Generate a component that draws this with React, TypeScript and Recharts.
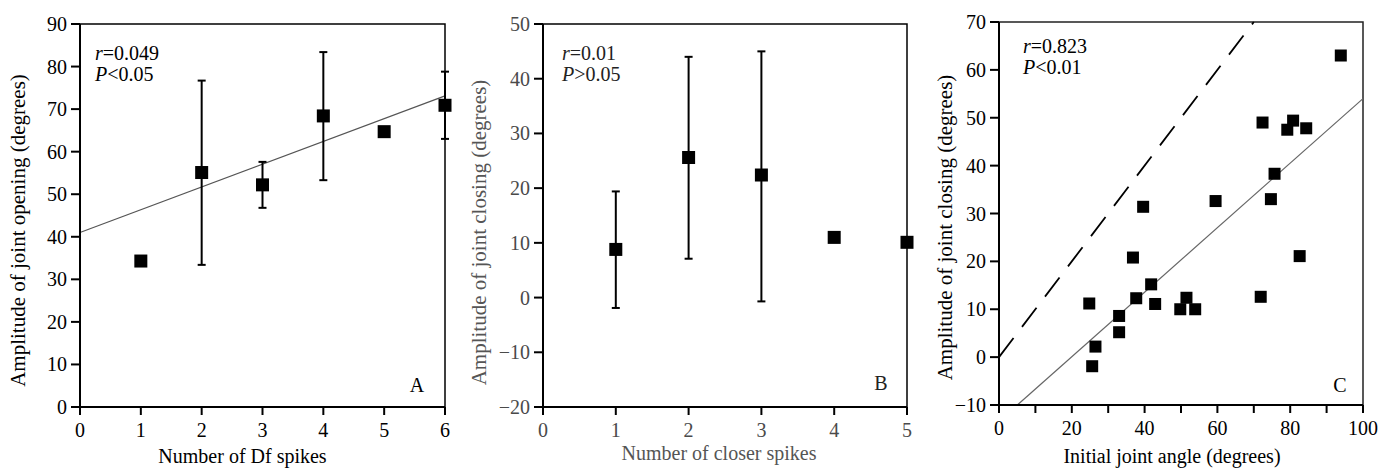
import React from 'react';
import {
  ScatterChart,
  Scatter,
  XAxis,
  YAxis,
  ErrorBar,
  ReferenceLine,
  ReferenceArea,
} from 'recharts';

const FONT = 'Liberation Serif, Times New Roman, serif';

// Panel A - joint opening vs Df spikes
const dfSpikes = [1, 2, 3, 4, 5, 6];
const openingMean = [34.3, 55.1, 52.2, 68.4, 64.7, 70.9];
const openingLow = [null, 33.4, 46.8, 53.3, null, 63.0];
const openingHigh = [null, 76.7, 57.6, 83.4, null, 78.8];
const openingFit = { intercept: 41.0, slope: 5.35 };
const ticksA_x = [0, 1, 2, 3, 4, 5, 6];
const ticksA_y = [0, 10, 20, 30, 40, 50, 60, 70, 80, 90];

// Panel B - joint closing vs closer spikes
const closerSpikes = [1, 2, 3, 4, 5];
const closingMean = [8.8, 25.6, 22.4, 11.0, 10.1];
const closingLow = [-1.9, 7.1, -0.7, null, null];
const closingHigh = [19.4, 44.0, 45.0, null, null];
const ticksB_x = [0, 1, 2, 3, 4, 5];
const ticksB_y = [-20, -10, 0, 10, 20, 30, 40, 50];

// Panel C - joint closing vs initial angle
const initialAngle = [
  93.9, 72.4, 80.8, 79.2, 84.4, 75.7, 74.7, 59.5, 39.6, 36.8, 82.6, 41.8,
  37.7, 42.9, 24.8, 51.5, 49.8, 53.9, 71.9, 33.0, 33.0, 26.5, 25.6,
];
const closingAmp = [
  63.0, 49.0, 49.4, 47.5, 47.8, 38.3, 33.0, 32.6, 31.4, 20.8, 21.1, 15.2,
  12.3, 11.1, 11.2, 12.4, 10.0, 10.0, 12.6, 8.6, 5.2, 2.2, -1.9,
];
const angleFit = { intercept: -13.4, slope: 0.674 };
const ticksC_x = [0, 10, 20, 30, 40, 50, 60, 70, 80, 90, 100];
const ticksC_y = [-10, 0, 10, 20, 30, 40, 50, 60, 70];

const withErrors = (xs: number[], ys: number[], lo: (number | null)[], hi: (number | null)[]) =>
  xs.map((x, i) => ({
    x,
    y: ys[i],
    err: lo[i] == null ? undefined : [ys[i] - (lo[i] as number), (hi[i] as number) - ys[i]],
  }));

const dataA = withErrors(dfSpikes, openingMean, openingLow, openingHigh);
const dataB = withErrors(closerSpikes, closingMean, closingLow, closingHigh);
const dataC = initialAngle.map((x, i) => ({ x, y: closingAmp[i] }));

const fmt = (v: number) => String(v).replace('-', '\u2212');

const Square = (size: number) => (props: any) => {
  const { cx, cy } = props;
  if (cx == null || cy == null) return null;
  return <rect x={cx - size / 2} y={cy - size / 2} width={size} height={size} fill="#000" />;
};

// tick labels drawn by hand so the serif font and minus sign stick
const XTick = (props: any) => {
  const { x, y, payload, color, every } = props;
  const v = payload?.value;
  if (every && v % every !== 0) return null;
  return (
    <text x={x} y={y} dy={14} textAnchor="middle" fill={color} style={{ fontFamily: FONT, fontSize: 20 }}>
      {fmt(v)}
    </text>
  );
};

const YTick = (props: any) => {
  const { x, y, payload, color } = props;
  return (
    <text x={x} y={y} dy={7} textAnchor="end" fill={color} style={{ fontFamily: FONT, fontSize: 20 }}>
      {fmt(payload?.value)}
    </text>
  );
};

const XTitle = (props: any) => {
  const vb = props.viewBox || { x: 0, y: 0, width: 0, height: 0 };
  return (
    <text
      x={vb.x + vb.width / 2 + props.dx}
      y={vb.y + props.dy}
      textAnchor="middle"
      style={{ fontFamily: FONT, fontSize: 20 }}
      fill={props.color}
    >
      {props.text}
    </text>
  );
};

const YTitle = (props: any) => {
  const vb = props.viewBox || { x: 0, y: 0, width: 0, height: 0 };
  const cx = vb.x + props.dx;
  const cy = vb.y + vb.height / 2 + props.dy;
  return (
    <text
      x={cx}
      y={cy}
      transform={`rotate(-90, ${cx}, ${cy})`}
      textAnchor="middle"
      dominantBaseline="central"
      style={{ fontFamily: FONT, fontSize: 21 }}
      fill={props.color}
    >
      {props.text}
    </text>
  );
};

const Notes = (props: any) => {
  const vb = props.viewBox || { x: 0, y: 0, width: 0, height: 0 };
  const { r, p, letter, nx, ny, lx, ly, color } = props;
  const st = { fontFamily: FONT, fontSize: 20 };
  return (
    <g fill={color}>
      <text x={vb.x + nx} y={vb.y + ny} style={st}>
        <tspan fontStyle="italic">r</tspan>={r}
      </text>
      <text x={vb.x + nx} y={vb.y + ny + 21} style={st}>
        <tspan fontStyle="italic">P</tspan>
        {p}
      </text>
      <text x={vb.x + vb.width + lx} y={vb.y + vb.height + ly} textAnchor="middle" style={st}>
        {letter}
      </text>
    </g>
  );
};

const axisLine = { stroke: '#000', strokeWidth: 2 };

export default function App() {
  return (
    <div
      style={{
        position: 'absolute',
        left: 0,
        top: 0,
        width: 1391,
        height: 468,
        background: '#fff',
        fontFamily: FONT,
      }}
    >
      {/* Panel A */}
      <div style={{ position: 'absolute', left: 0, top: 0 }}>
        <ScatterChart width={470} height={468} margin={{ top: 24, right: 25, bottom: 0, left: 0 }}>
          <XAxis
            type="number"
            dataKey="x"
            domain={[0, 6]}
            ticks={ticksA_x}
            interval={0}
            height={61}
            tickSize={8}
            tickMargin={8}
            axisLine={axisLine}
            tickLine={axisLine}
            tick={<XTick color="#000" />}
            label={<XTitle text="Number of Df spikes" dx={-20} dy={56} color="#000" />}
          />
          <YAxis
            type="number"
            dataKey="y"
            domain={[0, 90]}
            ticks={ticksA_y}
            interval={0}
            width={80}
            tickSize={9}
            tickMargin={4}
            axisLine={axisLine}
            tickLine={axisLine}
            tick={<YTick color="#000" />}
            label={<YTitle text="Amplitude of joint opening (degrees)" dx={18} dy={15} color="#000" />}
          />
          <ReferenceArea
            x1={0}
            x2={6}
            y1={0}
            y2={90}
            fill="none"
            fillOpacity={0}
            stroke="#000"
            strokeWidth={1.5}
            ifOverflow="visible"
            label={<Notes r="0.049" p="<0.05" letter="A" nx={15} ny={36} lx={-28} ly={-15} color="#000" />}
          />
          <ReferenceLine
            segment={[
              { x: 0, y: openingFit.intercept },
              { x: 6, y: openingFit.intercept + 6 * openingFit.slope },
            ]}
            stroke="#555"
            strokeWidth={1.2}
            ifOverflow="visible"
          />
          <Scatter data={dataA} shape={Square(13)} isAnimationActive={false}>
            <ErrorBar dataKey="err" direction="y" width={4} stroke="#000" strokeWidth={2} isAnimationActive={false} />
          </Scatter>
        </ScatterChart>
      </div>

      {/* Panel B */}
      <div style={{ position: 'absolute', left: 455, top: 0 }}>
        <ScatterChart width={485} height={468} margin={{ top: 24, right: 33, bottom: 0, left: 0 }}>
          <XAxis
            type="number"
            dataKey="x"
            domain={[0, 5]}
            ticks={ticksB_x}
            interval={0}
            height={61}
            tickSize={8}
            tickMargin={8}
            axisLine={axisLine}
            tickLine={axisLine}
            tick={<XTick color="#4a4a4a" />}
            label={<XTitle text="Number of closer spikes" dx={-6} dy={53} color="#555" />}
          />
          <YAxis
            type="number"
            dataKey="y"
            domain={[-20, 50]}
            ticks={ticksB_y}
            interval={0}
            width={88}
            tickSize={9}
            tickMargin={4}
            axisLine={axisLine}
            tickLine={axisLine}
            tick={<YTick color="#4a4a4a" />}
            label={<YTitle text="Amplitude of joint closing (degrees)" dx={24} dy={17} color="#555" />}
          />
          <ReferenceArea
            x1={0}
            x2={5}
            y1={-20}
            y2={50}
            fill="none"
            fillOpacity={0}
            stroke="#000"
            strokeWidth={1.5}
            ifOverflow="visible"
            label={<Notes r="0.01" p=">0.05" letter="B" nx={19} ny={36} lx={-26} ly={-17} color="#222" />}
          />
          <Scatter data={dataB} shape={Square(13)} isAnimationActive={false}>
            <ErrorBar dataKey="err" direction="y" width={4} stroke="#000" strokeWidth={2} isAnimationActive={false} />
          </Scatter>
        </ScatterChart>
      </div>

      {/* Panel C */}
      <div style={{ position: 'absolute', left: 925, top: 0 }}>
        <ScatterChart width={466} height={468} margin={{ top: 22, right: 28, bottom: 0, left: 0 }}>
          <XAxis
            type="number"
            dataKey="x"
            domain={[0, 100]}
            ticks={ticksC_x}
            interval={0}
            height={63}
            tickSize={8}
            tickMargin={8}
            axisLine={axisLine}
            tickLine={axisLine}
            tick={<XTick color="#000" every={20} />}
            label={<XTitle text="Initial joint angle (degrees)" dx={-9} dy={58} color="#000" />}
          />
          <YAxis
            type="number"
            dataKey="y"
            domain={[-10, 70]}
            ticks={ticksC_y}
            interval={0}
            width={74}
            tickSize={9}
            tickMargin={4}
            axisLine={axisLine}
            tickLine={axisLine}
            tick={<YTick color="#000" />}
            label={<YTitle text="Amplitude of joint closing (degrees)" dx={20} dy={14} color="#000" />}
          />
          <ReferenceArea
            x1={0}
            x2={100}
            y1={-10}
            y2={70}
            fill="none"
            fillOpacity={0}
            stroke="#222"
            strokeWidth={1.5}
            ifOverflow="visible"
            label={<Notes r="0.823" p="<0.01" letter="C" nx={24} ny={31} lx={-23} ly={-13} color="#000" />}
          />
          <ReferenceLine
            segment={[
              { x: 0, y: 0 },
              { x: 70, y: 70 },
            ]}
            stroke="#000"
            strokeWidth={1.8}
            strokeDasharray="24 14"
            ifOverflow="visible"
          />
          <ReferenceLine
            segment={[
              { x: (-10 - angleFit.intercept) / angleFit.slope, y: -10 },
              { x: 100, y: angleFit.intercept + 100 * angleFit.slope },
            ]}
            stroke="#666"
            strokeWidth={1.2}
            ifOverflow="visible"
          />
          <Scatter data={dataC} shape={Square(12)} isAnimationActive={false} />
        </ScatterChart>
      </div>
    </div>
  );
}
